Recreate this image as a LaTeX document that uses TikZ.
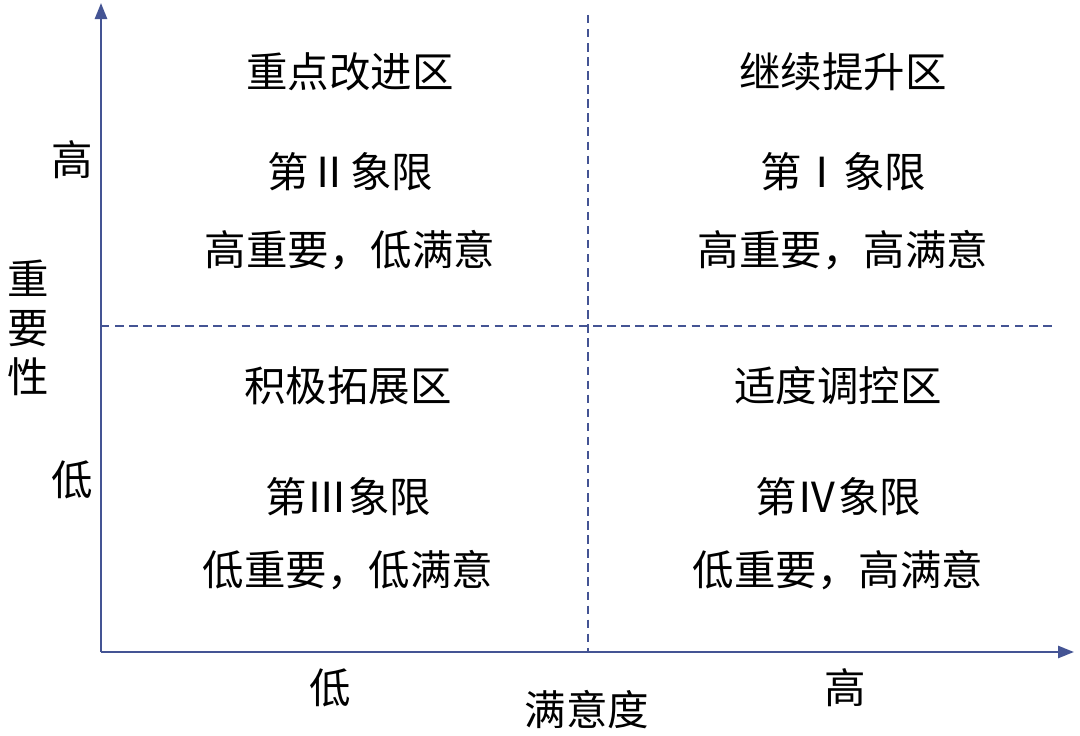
\documentclass[tikz,border=0pt]{standalone}
\usepackage{fontspec}
\usepackage{xcolor}
\usetikzlibrary{arrows.meta,positioning}
\newfontfamily\cjk{Noto Sans CJK SC}
\definecolor{axisblue}{RGB}{68,84,148}

\begin{document}
\begin{tikzpicture}[
  x=0.025cm, y=-0.025cm,
  txt/.style={font=\cjk\fontsize{29.5}{31}\selectfont, inner sep=0pt},
  axis/.style={-{Triangle[length=4mm,width=3mm]}, axisblue, line width=1.8pt},
  grid/.style={axisblue, dashed, dash pattern=on 6pt off 4pt, line width=1pt}
]
\useasboundingbox[fill=white] (0,0) rectangle (1080,736);
\coordinate (o) at (101,652);
\coordinate (ytop) at (101,3);
\coordinate (xend) at (1074,652);
\coordinate (vtop) at (588,15);
\coordinate (vbot) at (588,652);
\coordinate (hl) at (101,326);
\coordinate (hr) at (1056,326);
\draw[grid] (vtop) -- (vbot);
\draw[grid] (hl) -- (hr);
\draw[axis] (o) -- (ytop);
\draw[axis] (o) -- (xend);
% quadrant II
\node[txt] (q2name) at (350,72) {重点改进区};
\node[txt] (q2num) at (350,172) {第Ⅱ象限};
\node[txt] (q2desc) at (350,250) {高重要，低满意};
% quadrant I
\node[txt] (q1name) at (843,72) {继续提升区};
\node[txt] (q1num) at (843,172) {第Ⅰ象限};
\node[txt] (q1desc) at (843,250) {高重要，高满意};
% quadrant III
\node[txt] (q3name) at (348,386) {积极拓展区};
\node[txt] (q3num) at (348,497) {第Ⅲ象限};
\node[txt] (q3desc) at (348,570) {低重要，低满意};
% quadrant IV
\node[txt] (q4name) at (838,386) {适度调控区};
\node[txt] (q4num) at (838,497) {第Ⅳ象限};
\node[txt] (q4desc) at (838,570) {低重要，高满意};
% axis labels
\node[txt] (yhigh) at (72,160) {高};
\node[txt] (ylow) at (72,480) {低};
\node[txt, align=center] (ylabel) at (28,328) {重\\[4pt]要\\[4pt]性};
\node[txt] (xlow) at (330,688) {低};
\node[txt] (xhigh) at (845,688) {高};
\node[txt] (xlabel) at (587,710) {满意度};
\end{tikzpicture}
\end{document}
